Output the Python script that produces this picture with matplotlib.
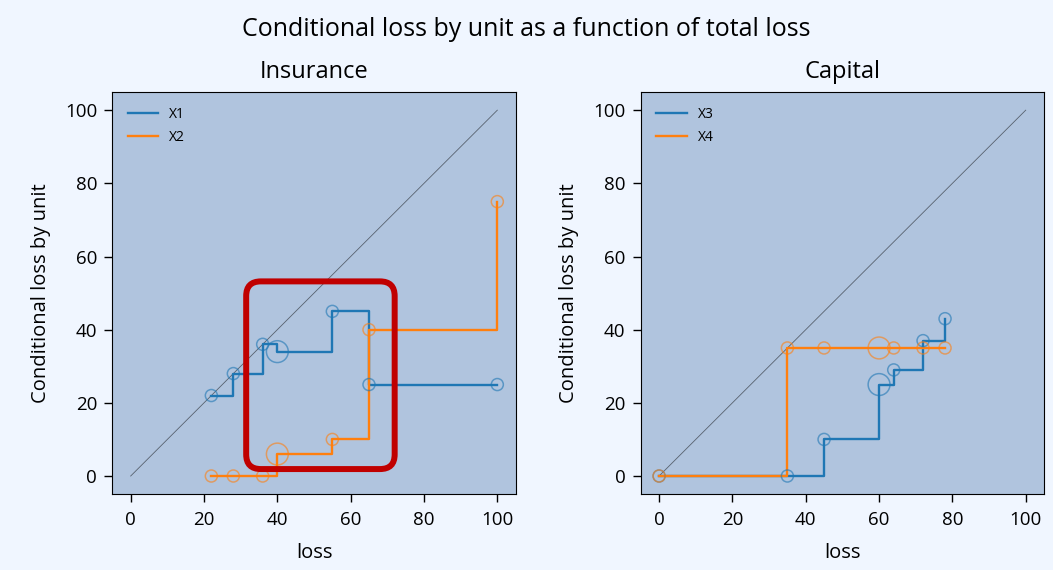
import matplotlib
matplotlib.use("Agg")
import matplotlib.pyplot as plt
from matplotlib.patches import FancyBboxPatch

plt.rcParams['font.family'] = ['Open Sans', 'DejaVu Sans']

# Insurance panel
ins_loss = [22, 28, 36, 40, 55, 65, 100]
ins_x1 = [22, 28, 36, 34, 45, 25, 25]
ins_x2 = [0, 0, 0, 6, 10, 40, 75]
ins_size = [1, 1, 1, 3.3, 1, 1, 1]

# Capital panel
cap_loss = [0, 35, 45, 60, 64, 72, 78]
cap_x3 = [0, 0, 10, 25, 29, 37, 43]
cap_x4 = [0, 35, 35, 35, 35, 35, 35]
cap_size = [1, 1, 1, 3.3, 1, 1, 1]

titles = ["Insurance", "Capital"]
labels = [["X1", "X2"], ["X3", "X4"]]
ticks = [0, 20, 40, 60, 80, 100]

fig = plt.figure(figsize=(10.53, 5.70), dpi=100, facecolor='#F0F6FF')
ax1 = fig.add_axes([0.1067, 0.1328, 0.383, 0.706])
ax2 = fig.add_axes([0.6085, 0.1328, 0.383, 0.706])

panels = [(ax1, ins_loss, [ins_x1, ins_x2], ins_size),
          (ax2, cap_loss, [cap_x3, cap_x4], cap_size)]
colors = ['#1f77b4', '#ff7f0e']
for i, (ax, xs, series, sz) in enumerate(panels):
    ax.set_facecolor('#B0C4DE')
    ax.plot([0, 100], [0, 100], color='k', lw=0.6, alpha=0.5)
    for j, ys in enumerate(series):
        ax.step(xs, ys, where='post', color=colors[j], lw=1.7, label=labels[i][j])
        ax.scatter(xs, ys, s=[75 * s for s in sz], facecolors='none',
                   edgecolors=colors[j], linewidths=1.1, alpha=0.6, zorder=3)
    ax.set_xlim(-5, 105)
    ax.set_ylim(-5, 105)
    ax.set_xticks(ticks)
    ax.set_yticks(ticks)
    ax.tick_params(labelsize=13.5, length=6, width=1.0)
    ax.tick_params(axis='x', pad=6)
    ax.tick_params(axis='y', pad=5)
    ax.set_xlabel("loss", fontsize=14.5, labelpad=10)
    ax.set_ylabel("Conditional loss by unit", fontsize=14.5, labelpad=10)
    ax.set_title(titles[i], fontsize=17, pad=10)
    ax.legend(loc='upper left', frameon=False, fontsize=10, handlelength=2.2,
              borderaxespad=0.7, labelspacing=0.55)

box = FancyBboxPatch((31.5, 1.9), 40.5, 51.3, boxstyle="round,pad=0,rounding_size=4",
                     fill=False, edgecolor='#C00000', lw=4.3, zorder=5)
ax1.add_patch(box)

fig.suptitle("Conditional loss by unit as a function of total loss", fontsize=18,
             y=1 - 30 / 570, va='center')
fig.savefig("out.png", dpi=100, facecolor=fig.get_facecolor())
